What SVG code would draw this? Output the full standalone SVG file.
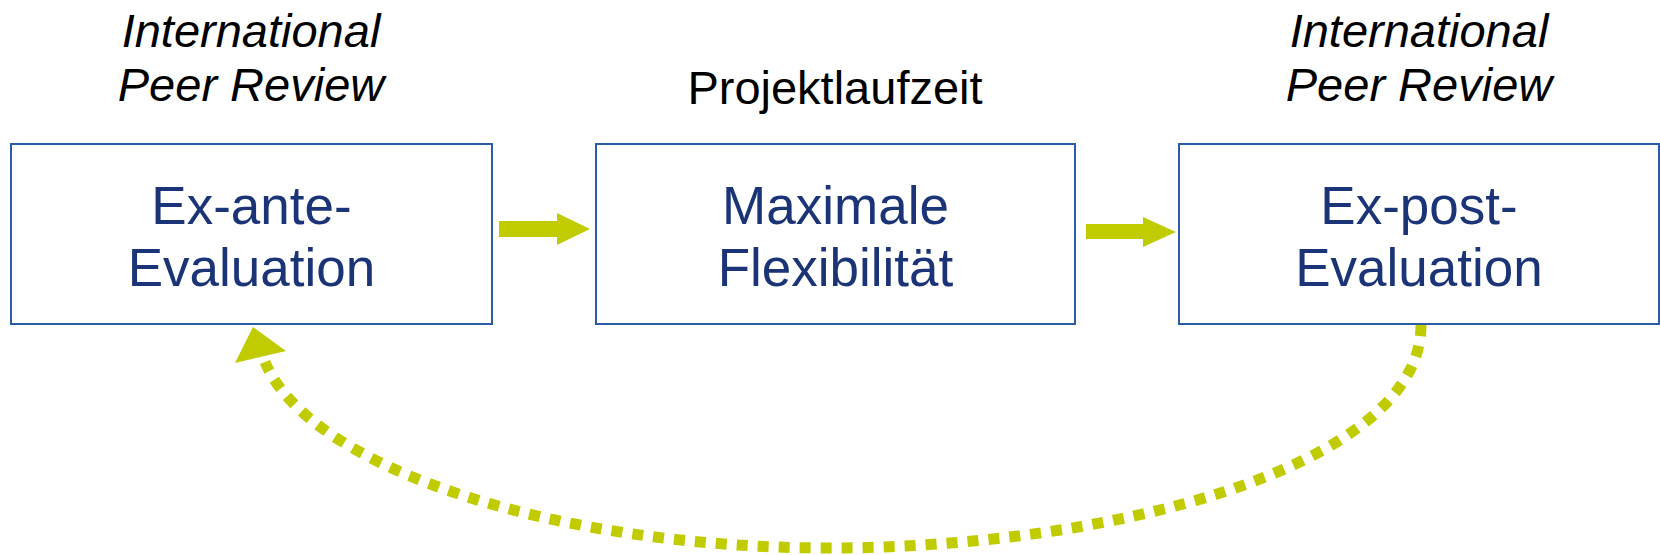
<svg xmlns="http://www.w3.org/2000/svg" width="1660" height="555" viewBox="0 0 1660 555">
<defs>
<style>
.box{fill:#fff;stroke:#2B5CA6;stroke-width:2}
.lbl{font-family:"Liberation Sans",Arial,sans-serif;font-size:53px;fill:#1B3478;text-anchor:middle}
.hdr{font-family:"Liberation Sans",Arial,sans-serif;font-size:47px;fill:#000;text-anchor:middle}
.it{font-style:italic}
.arr{fill:#C0CC00}
.dot{fill:none;stroke:#C0CC00;stroke-width:11;stroke-dasharray:11 10}
</style>
</defs>
<rect width="1660" height="555" fill="#fff"/>
<g id="hdr-left">
<text class="hdr it" x="251" y="47">International</text>
<text class="hdr it" x="251" y="101">Peer Review</text>
</g>
<g id="hdr-mid">
<text class="hdr" x="835" y="104">Projektlaufzeit</text>
</g>
<g id="hdr-right">
<text class="hdr it" x="1419" y="47">International</text>
<text class="hdr it" x="1419" y="101">Peer Review</text>
</g>
<g id="node-exante">
<rect class="box" x="11" y="144" width="481" height="180"/>
<text class="lbl" x="251.5" y="224">Ex-ante-</text>
<text class="lbl" x="251.5" y="286">Evaluation</text>
</g>
<g id="node-flex">
<rect class="box" x="596" y="144" width="479" height="180"/>
<text class="lbl" x="835.5" y="224">Maximale</text>
<text class="lbl" x="835.5" y="286">Flexibilität</text>
</g>
<g id="node-expost">
<rect class="box" x="1179" y="144" width="480" height="180"/>
<text class="lbl" x="1419" y="224">Ex-post-</text>
<text class="lbl" x="1419" y="286">Evaluation</text>
</g>
<g id="connectors">
<polygon class="arr" points="499,221 557,221 557,213 590,229 557,245 557,237 499,237"/>
<polygon class="arr" points="1086,224 1143,224 1143,217 1176,232 1143,247 1143,239 1086,239"/>
<path class="dot" d="M1421,325 C1421,470 1100,548 830,548 C560,548 310,470 265,362"/>
<polygon class="arr" points="253,327 286,351 235,363"/>
</g>
</svg>
